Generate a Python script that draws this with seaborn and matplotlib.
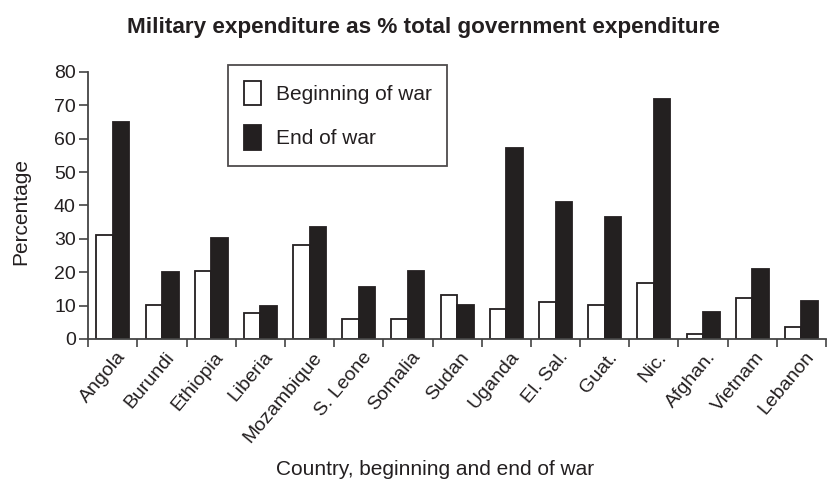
import numpy as np
import pandas as pd
import seaborn as sns
from matplotlib import pyplot as plt
from matplotlib import transforms
from matplotlib.patches import Patch

countries = ['Angola', 'Burundi', 'Ethiopia', 'Liberia', 'Mozambique', 'S. Leone',
             'Somalia', 'Sudan', 'Uganda', 'El. Sal.', 'Guat.', 'Nic.', 'Afghan.',
             'Vietnam', 'Lebanon']
beginning = [31.1, 10.3, 20.3, 7.9, 28.1, 6.0, 6.0, 13.1, 9.0, 11.1, 10.1, 16.8, 1.4, 12.4, 3.5]
end = [65.0, 20.1, 30.3, 10.0, 33.5, 15.6, 20.3, 10.1, 57.2, 40.9, 36.5, 71.8, 8.1, 20.9, 11.5]
series = ['Beginning of war', 'End of war']

df = pd.concat([
    pd.DataFrame({'country': countries, 'value': beginning, 'period': series[0]}),
    pd.DataFrame({'country': countries, 'value': end, 'period': series[1]}),
])

sns.set_style('white')
plt.rcParams['font.family'] = ['Liberation Sans', 'DejaVu Sans']
ink = '#231f20'

fig = plt.figure(figsize=(8.28, 4.86), dpi=100)
ax = fig.add_axes([0.1066, 0.3025, 0.891, 0.5495])
sns.barplot(data=df, x='country', y='value', hue='period', order=countries,
            hue_order=series, palette=['white', ink], edgecolor=ink,
            linewidth=1.3, width=0.67, gap=0, ax=ax, legend=False)

ax.set_xlim(-0.5, len(countries) - 0.5)
ax.set_ylim(0, 80)
ax.set_yticks(range(0, 81, 10))
ax.tick_params(axis='y', labelsize=14, length=6.5, width=1.2, color='#444444',
               labelcolor=ink, direction='out', left=True, pad=2.5)
ax.set_xticks(np.arange(len(countries) + 1) - 0.5, minor=True)
ax.tick_params(axis='x', which='minor', length=6, width=1.2, color='#444444',
               direction='out', bottom=True)
ax.tick_params(axis='x', which='major', length=0, pad=7)
ax.set_xticklabels(countries, rotation=50, ha='right', va='top',
                   rotation_mode='anchor', fontsize=14, color=ink)
# nudge the rotated labels a little to the right of the group centre
shift = transforms.ScaledTranslation(0.03, 0, fig.dpi_scale_trans)
for lab in ax.get_xticklabels():
    lab.set_transform(lab.get_transform() + shift)

sns.despine(ax=ax)
for side in ['left', 'bottom']:
    ax.spines[side].set_color('#444444')
    ax.spines[side].set_linewidth(1.3)

ax.set_ylabel('Percentage', fontsize=15, color=ink)
ax.yaxis.set_label_coords(-0.079, 0.476)
ax.set_xlabel('Country, beginning and end of war', fontsize=15, color=ink)
ax.xaxis.set_label_coords(0.47, -0.455)
fig.text(0.511, 1 - 33 / 486, 'Military expenditure as % total government expenditure',
         fontsize=16.2, fontweight='bold', color=ink, ha='center', va='baseline')

handles = [Patch(facecolor='white', edgecolor=ink, linewidth=1.3),
           Patch(facecolor=ink, edgecolor=ink, linewidth=1.3)]
leg = ax.legend(handles, series, loc='upper left', bbox_to_anchor=(0.19, 1.026),
                fontsize=15, handlelength=0.82, handleheight=1.45, handletextpad=0.7,
                labelspacing=0.95, borderpad=0.75, frameon=True, fancybox=False,
                edgecolor=ink, borderaxespad=0, labelcolor=ink)
leg.get_frame().set_linewidth(1.3)

fig.savefig('out.png', dpi=100)
